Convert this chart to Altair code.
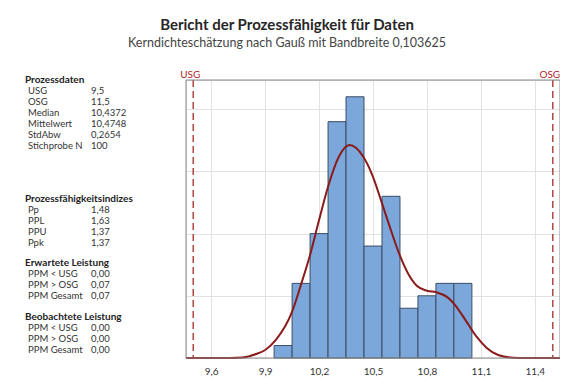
import altair as alt
import pandas as pd

# ---------------- data ----------------
bin_lo = [9.95, 10.05, 10.15, 10.25, 10.35, 10.45, 10.55, 10.65, 10.75, 10.85, 10.95]
bin_hi = [10.05, 10.15, 10.25, 10.35, 10.45, 10.55, 10.65, 10.75, 10.85, 10.95, 11.05]
counts = [1, 6, 10, 19, 21, 9, 13, 4, 5, 6, 6]

kde_x = [9.46, 9.70, 9.775, 9.85, 9.90, 9.96, 10.05, 10.10, 10.15, 10.20, 10.25, 10.31,
         10.37, 10.445, 10.50, 10.547, 10.593, 10.645, 10.695, 10.745, 10.80, 10.853,
         10.909, 10.964, 11.02, 11.076, 11.131, 11.196, 11.28, 11.35, 11.54]
kde_y = [0.0, 0.0, 0.04, 0.32, 0.64, 1.45, 3.72, 5.92, 8.28, 11.09, 13.77, 16.18,
         17.12, 16.2, 14.57, 12.57, 10.56, 8.41, 6.8, 5.79, 5.41, 5.28,
         4.93, 4.12, 2.92, 1.71, 0.83, 0.24, 0.02, 0.0, 0.0]

spec_names = ["USG", "OSG"]
spec_vals = [9.5, 11.5]

x_ticks = [9.6, 9.9, 10.2, 10.5, 10.8, 11.1, 11.4]
y_grid = [5, 10, 15, 20]

title_text = "Bericht der Prozessfähigkeit für Daten"
subtitle_text = "Kerndichteschätzung nach Gauß mit Bandbreite 0,103625"

sec_headers = ["Prozessdaten", "Prozessfähigkeitsindizes", "Erwartete Leistung", "Beobachtete Leistung"]
sec_labels = [
    ["USG", "OSG", "Median", "Mittelwert", "StdAbw", "Stichprobe N"],
    ["Pp", "PPL", "PPU", "Ppk"],
    ["PPM < USG", "PPM > OSG", "PPM Gesamt"],
    ["PPM < USG", "PPM > OSG", "PPM Gesamt"],
]
sec_values = [
    ["9,5", "11,5", "10,4372", "10,4748", "0,2654", "100"],
    ["1,48", "1,63", "1,37", "1,37"],
    ["0,00", "0,07", "0,07"],
    ["0,00", "0,00", "0,00"],
]

# ---------------- layout (not data) ----------------
W, H = 374, 278
LINE = 11.0
sec_start_lines = [0.0, 119 / LINE, 183 / LINE, 237 / LINE]

FONT = "Lato"
RED = "#8B1A1A"
LABEL_RED = "#B0262B"

bars = pd.DataFrame({"lo": bin_lo, "hi": bin_hi, "count": counts})
kde = pd.DataFrame({"x": kde_x, "y": kde_y})
specs = pd.DataFrame({"name": spec_names, "v": spec_vals})

hdr_rows, item_rows = [], []
for s, h in enumerate(sec_headers):
    hdr_rows.append({"t": h, "line": sec_start_lines[s]})
    for i, (lab, val) in enumerate(zip(sec_labels[s], sec_values[s])):
        item_rows.append({"t": lab, "v": val, "line": sec_start_lines[s] + 1 + i})
hdr_df = pd.DataFrame(hdr_rows)
item_df = pd.DataFrame(item_rows)

xs = alt.Scale(domain=[9.46, 11.54], nice=False, zero=False)
ys = alt.Scale(domain=[0, 22.35], nice=False, zero=True)
x_axis = alt.Axis(values=x_ticks, labelExpr="replace(format(datum.value, '.1f'), '.', ',')",
                  grid=True, gridColor="#e2e2e2", ticks=False, domain=False, title=None,
                  labelFont=FONT, labelFontSize=10, labelColor="#333333", labelPadding=8)
y_axis = alt.Axis(values=y_grid, grid=True, gridColor="#e2e2e2", ticks=False, domain=False,
                  labels=False, title=None)

bar_layer = alt.Chart(bars).mark_bar(color="#7BA7DB", stroke="#3B4D63", strokeWidth=1).encode(
    x=alt.X("lo:Q", scale=xs, axis=x_axis),
    x2="hi:Q",
    y=alt.Y("count:Q", scale=ys, axis=y_axis),
    y2=alt.datum(0),
)

curve_layer = alt.Chart(kde).mark_line(color=RED, strokeWidth=2, interpolate="monotone").encode(
    x=alt.X("x:Q", scale=xs, axis=x_axis),
    y=alt.Y("y:Q", scale=ys, axis=y_axis),
)

rule_layer = alt.Chart(specs).mark_rule(color="#A52A2A", strokeDash=[7, 4], strokeWidth=1.3).encode(
    x=alt.X("v:Q", scale=xs, axis=x_axis),
)

spec_text = alt.Chart(specs).mark_text(color=LABEL_RED, font=FONT, fontSize=10,
                                       baseline="alphabetic", align="center", dx=-3).encode(
    x=alt.X("v:Q", scale=xs, axis=x_axis),
    y=alt.value(-2),
    text="name:N",
)

main = alt.layer(bar_layer, curve_layer, rule_layer, spec_text)

frame = alt.Chart(pd.DataFrame({"a": [0]})).mark_rect(
    fill=None, fillOpacity=0, stroke="#8a8a8a", strokeWidth=1
).encode(x=alt.value(0), x2=alt.value(W), y=alt.value(0), y2=alt.value(H))

ly = alt.Scale(domain=[0, H / LINE], range=[0, H], nice=False, zero=False)
hdr_layer = alt.Chart(hdr_df).mark_text(font=FONT, fontSize=10, fontWeight="bold", color="#222222",
                                         align="left", baseline="middle").encode(
    x=alt.value(-161), y=alt.Y("line:Q", scale=ly, axis=None), text="t:N")
lab_layer = alt.Chart(item_df).mark_text(font=FONT, fontSize=9.5, color="#333333",
                                         align="left", baseline="middle").encode(
    x=alt.value(-158), y=alt.Y("line:Q", scale=ly, axis=None), text="t:N")
val_layer = alt.Chart(item_df).mark_text(font=FONT, fontSize=9.5, color="#333333",
                                         align="left", baseline="middle").encode(
    x=alt.value(-95), y=alt.Y("line:Q", scale=ly, axis=None), text="v:N")
panel = alt.layer(hdr_layer, lab_layer, val_layer)

t_df = pd.DataFrame({"t": [title_text], "s": [subtitle_text]})
title_layer = alt.Chart(t_df).mark_text(font=FONT, fontSize=15, fontWeight="bold", color="#262626",
                                        align="center", baseline="middle").encode(
    x=alt.value(101), y=alt.value(-55), text="t:N")
sub_layer = alt.Chart(t_df).mark_text(font=FONT, fontSize=12.5, color="#444444",
                                      align="center", baseline="middle").encode(
    x=alt.value(101), y=alt.value(-37), text="s:N")

chart = alt.layer(main, frame, panel, title_layer, sub_layer).resolve_scale(
    y="independent", x="independent"
).properties(
    width=W, height=H,
    padding={"left": 178, "top": 72, "right": 0, "bottom": 24},
    autosize=alt.AutoSizeParams(type="none"),
).configure_view(stroke="#8a8a8a", strokeWidth=1).configure(background="white")

chart.save("out.html", embed_options={"renderer": "svg", "actions": False})
